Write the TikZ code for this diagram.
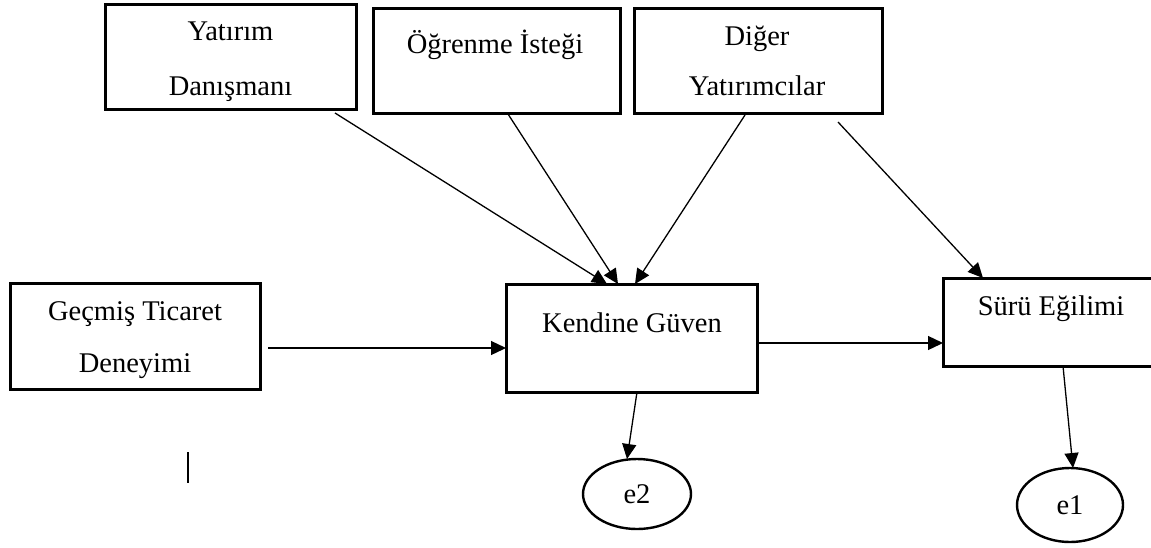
\documentclass[tikz,border=0pt]{standalone}
\usepackage{fontspec}
\setmainfont{Liberation Serif}
\usetikzlibrary{arrows.meta,shapes.geometric}
\begin{document}
\begin{tikzpicture}[x=1pt,y=-1pt,
  box/.style={draw,line width=3pt,rectangle,inner sep=0pt,outer sep=0pt},
  lbl/.style={anchor=base,inner sep=0pt,font=\fontsize{28.5}{32}\selectfont},
  err/.style={draw,line width=2.4pt,ellipse,inner sep=0pt,outer sep=0pt,font=\fontsize{28.5}{32}\selectfont},
  arr/.style={line width=1.3pt,-{Triangle[length=15pt,width=14pt]}}]
\useasboundingbox (0,0) rectangle (1151,547);
% boxes
\node[box,minimum width=251pt,minimum height=105pt] (b1) at (230.5,56.5) {};
\node[box,minimum width=247pt,minimum height=105pt] (b2) at (497,60.5) {};
\node[box,minimum width=248pt,minimum height=105pt] (b3) at (758,60.5) {};
\node[box,minimum width=250pt,minimum height=106pt] (ge) at (135,336) {};
\node[box,minimum width=251pt,minimum height=108pt] (kg) at (631.5,338) {};
\node[box,minimum width=209pt,minimum height=88pt] (su) at (1047.5,322) {};
% labels
\node[lbl] (t1a) at (230.5,40) {Yatırım};
\node[lbl] (t1b) at (230.5,95) {Danışmanı};
\node[lbl] (t2) at (495,53) {Öğrenme İsteği};
\node[lbl] (t3a) at (757,45) {Diğer};
\node[lbl] (t3b) at (757,95) {Yatırımcılar};
\node[lbl] (t4a) at (135,320) {Geçmiş Ticaret};
\node[lbl] (t4b) at (135,372) {Deneyimi};
\node[lbl] (t5) at (632,332) {Kendine Güven};
\node[lbl] (t6) at (1051,315) {Sürü Eğilimi};
% ellipses
\node[err,minimum width=108pt,minimum height=70pt] (e2) at (637,494) {e2};
\node[err,minimum width=106pt,minimum height=74pt] (e1) at (1070,505) {e1};
% arrows
\draw[arr] ([xshift=104.5pt,yshift=-4pt]b1.south) -- ([xshift=-24.5pt]kg.north);
\draw[arr] ([xshift=11pt,yshift=-1pt]b2.south) -- ([xshift=-13.5pt]kg.north);
\draw[arr] ([xshift=-13pt,yshift=-2pt]b3.south) -- ([xshift=3.5pt]kg.north);
\draw[arr] ([xshift=80pt,yshift=-9pt]b3.south) -- ([xshift=-64.5pt]su.north);
\draw[arr] ([xshift=8pt,yshift=-12pt]ge.east) -- ([yshift=-10pt]kg.west);
\draw[arr] ([yshift=-5pt]kg.east) -- ([yshift=-21pt]su.west);
\draw[arr] ([xshift=5.5pt]kg.south) -- ([xshift=-10pt]e2.north);
\draw[arr] ([xshift=15.5pt]su.south) -- ([xshift=3pt]e1.north);
% stray vertical line
\coordinate (v1) at (188,452);
\coordinate (v2) at (188,483);
\draw[line width=1.5pt] (v1) -- (v2);
\end{tikzpicture}
\end{document}
